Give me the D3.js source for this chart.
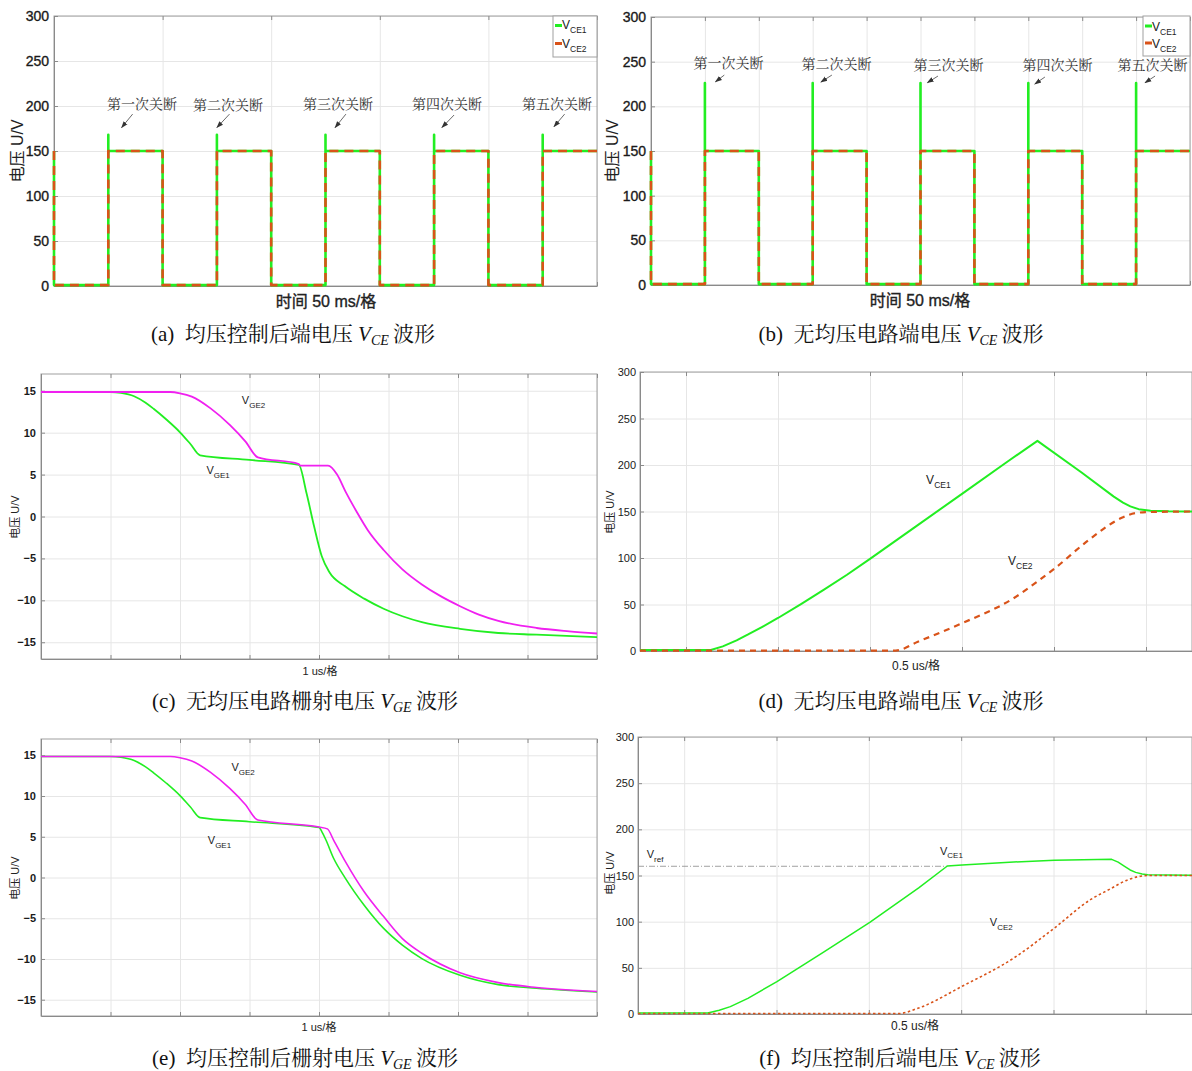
<!DOCTYPE html>
<html><head><meta charset="utf-8">
<script src="https://cdn.jsdelivr.net/npm/d3@7/dist/d3.min.js"></script>
<style>body{margin:0;background:#fff}</style>
</head><body><svg id="fig" width="1192" height="1071"></svg>
<script>
// ---------------- DATA ----------------
// (a)/(b) square-wave turn-off sequences, time in ms
const sqTime = [0,0,25,25,25,50,50,75,75,75,100,100,125,125,125,150,150,175,175,175,200,200,225,225,225,250];
const aVce1 = [150,1,1,168,150,150,1,1,168,150,150,1,1,168,150,150,1,1,168,150,150,1,1,168,150,150];
const aVce2 = [150,1,1,150,150,150,1,1,150,150,150,1,1,150,150,150,1,1,150,150,150,1,1,150,150,150];
const bVce1 = [150,1,1,226,150,150,1,1,226,150,150,1,1,226,150,150,1,1,226,150,150,1,1,226,150,150];
const bVce2 = [150,1,1,150,150,150,1,1,150,150,150,1,1,150,150,150,1,1,150,150,150,1,1,150,150,150];
const noteText = ["第一次关断","第二次关断","第三次关断","第四次关断","第五次关断"];
const aNoteT = [40.5, 80.1, 130.8, 180.9, 231.6];
const aNoteV = [203, 202, 203, 203, 203];
const aArrowFromT = [36.2, 80.8, 134.4, 184.2, 235.1];
const aArrowToT = [31.1, 75.0, 129.4, 178.6, 230.2];
const aArrowFromV = [191, 191, 191, 190, 191];
const aArrowToV = [176, 176, 176, 176, 177];
const bNoteT = [35.9, 86.0, 138.0, 188.5, 232.6];
const bNoteV = [248.4, 247.3, 246.2, 246.2, 246.2];
const bArrowFromT = [34.0, 83.9, 133.1, 182.7, 233.8];
const bArrowToT = [29.9, 78.8, 128.2, 178.0, 229.1];
const bArrowFromV = [235, 235, 233.9, 232.8, 233.9];
const bArrowToV = [227.5, 227.2, 226.4, 225, 226.4];

// (c) gate voltages without balancing, time in divisions (1 us/div)
const cT1 = [0, 1.0, 1.15, 1.34, 1.5, 1.62, 1.8, 2.0, 2.15, 2.29, 3.0, 3.71, 3.82, 3.93, 4.04, 4.15, 4.37, 4.65, 4.93, 5.2, 5.48, 6.03, 6.58, 7.13, 8.0];
const cVge1 = [14.85, 14.85, 14.75, 14.35, 13.6, 12.85, 11.6, 10.05, 8.65, 7.3, 6.75, 6.15, 2.8, -1.2, -4.75, -6.65, -8.3, -9.8, -11.0, -11.9, -12.6, -13.4, -13.9, -14.1, -14.4];
const cT2 = [0, 1.86, 2.0, 2.17, 2.44, 2.72, 2.94, 3.12, 3.71, 3.73, 4.13, 4.26, 4.38, 4.54, 4.7, 4.93, 5.2, 5.48, 5.75, 6.03, 6.3, 6.58, 7.13, 7.6, 8.0];
const cVge2 = [14.85, 14.85, 14.7, 14.3, 12.9, 10.9, 8.96, 7.05, 6.26, 6.06, 6.06, 5.0, 3.0, 0.6, -1.6, -4.0, -6.3, -8.1, -9.5, -10.7, -11.7, -12.45, -13.3, -13.7, -13.96];

// (e) gate voltages with balancing
const eT1 = [0, 1.0, 1.15, 1.34, 1.5, 1.62, 1.8, 2.0, 2.15, 2.29, 3.0, 4.0, 4.04, 4.1, 4.21, 4.38, 4.65, 4.93, 5.2, 5.48, 6.03, 6.58, 7.13, 8.0];
const eVge1 = [14.85, 14.85, 14.75, 14.35, 13.6, 12.85, 11.6, 10.05, 8.65, 7.35, 6.85, 6.14, 5.64, 4.6, 2.36, -0.1, -3.4, -6.25, -8.3, -9.95, -12.0, -13.15, -13.6, -14.05];
const eT2 = [0, 1.86, 2.0, 2.17, 2.44, 2.72, 2.94, 3.12, 4.0, 4.12, 4.21, 4.38, 4.65, 4.93, 5.2, 5.48, 6.03, 6.58, 7.13, 8.0];
const eVge2 = [14.85, 14.85, 14.7, 14.3, 12.9, 10.9, 8.96, 7.05, 6.2, 5.97, 4.6, 1.95, -1.75, -4.8, -7.5, -9.3, -11.7, -12.9, -13.5, -14.0];

// (d) collector voltages without balancing, time in divisions (0.5 us/div)
const dT1 = [0, 0.77, 0.9, 1.05, 1.17, 1.33, 1.5, 1.75, 2.0, 2.25, 2.5, 3.0, 3.5, 4.0, 4.32, 4.8, 5.15, 5.25, 5.33, 5.42, 5.55, 5.75, 6.0];
const dVce1 = [1, 1, 5, 11.5, 17.5, 26, 35.5, 50.5, 66, 82, 99, 134, 169, 204, 226, 192, 166, 159.5, 155.5, 152.5, 150.8, 150.2, 150];
const dT2 = [0, 2.78, 3.02, 3.5, 4.06, 4.32, 4.51, 4.88, 5.23, 5.38, 5.5, 6.0];
const dVce2 = [0.5, 0.5, 10, 29.8, 56.7, 74.7, 89, 119.5, 142.9, 148.2, 149.3, 150];

// (f) collector voltages with balancing
const fT1 = [0, 0.755, 0.88, 1.0, 1.19, 1.505, 2.01, 2.51, 3.04, 3.35, 3.51, 4.07, 4.51, 5.13, 5.2, 5.27, 5.33, 5.39, 5.46, 5.52, 6.0];
const fVce1 = [1, 1, 4, 8, 17, 35, 67, 99.3, 136.5, 160.3, 161.4, 164.6, 166.4, 167.5, 164.5, 160, 156, 153.4, 151.7, 150.9, 150.2];
const fT2 = [0, 2.82, 3.04, 3.51, 4.07, 4.51, 4.9, 5.1, 5.31, 5.52, 6.0];
const fVce2 = [0.5, 0.5, 6.5, 30, 60.6, 93.1, 123.8, 134.7, 145.5, 150, 150];
const fRefT = [0, 3.35];
const fRefV = [160, 160];

const vceTicks = [0, 50, 100, 150, 200, 250, 300];
const vgeTicks = [-15, -10, -5, 0, 5, 10, 15];

// ---------------- STYLE ----------------
const GREEN = "#22ee22", ORANGE = "#d95319", MAGENTA = "#f020f0";
const SANS = "'Liberation Sans','Noto Sans CJK SC',Arial,sans-serif";
const CJK = "'Noto Serif CJK SC','Noto Sans CJK SC',serif";
const SERIF = "'Liberation Serif','Noto Serif CJK SC','Noto Sans CJK SC',serif";

const svg = d3.select('#fig');
svg.append('defs').append('marker').attr('id','arr').attr('viewBox','0 0 10 10')
  .attr('refX',9).attr('refY',5).attr('markerWidth',7).attr('markerHeight',7).attr('orient','auto')
  .attr('markerUnits','userSpaceOnUse')
  .append('path').attr('d','M0,1.5 L10,5 L0,8.5 z').attr('fill','#333');

function panel(o){
  const g = svg.append('g');
  const x = d3.scaleLinear().domain(o.xDomain).range([o.x0, o.x1]);
  const y = d3.scaleLinear().domain(o.yDomain).range([o.y1, o.y0]);
  const W = o.x1 - o.x0, H = o.y1 - o.y0;
  g.append('g').attr('transform', `translate(0,${o.y1})`)
    .call(d3.axisBottom(x).tickValues(o.xGrid).tickSize(-H).tickFormat(''))
    .call(s => { s.select('.domain').remove(); s.selectAll('line').attr('stroke', '#e6e6e6'); });
  g.append('g').attr('transform', `translate(${o.x0},0)`)
    .call(d3.axisLeft(y).tickValues(o.yTicks).tickSize(-W).tickFormat(''))
    .call(s => { s.select('.domain').remove(); s.selectAll('line').attr('stroke', '#e6e6e6'); });
  g.append('rect').attr('x', o.x0).attr('y', o.y0).attr('width', W).attr('height', H)
    .attr('fill', 'none').attr('stroke', '#a0a0a0').attr('stroke-width', 1);
  g.append('g').attr('transform', `translate(${o.x0},0)`)
    .call(d3.axisLeft(y).tickValues(o.yTicks).tickSizeInner(-4).tickSizeOuter(0).tickPadding(o.pad))
    .call(s => {
      s.select('.domain').attr('stroke', '#8a8a8a');
      s.selectAll('line').attr('stroke', '#8a8a8a');
      s.selectAll('text').attr('font-family', SANS).attr('font-size', o.tickSize)
        .attr('font-weight', o.tickWeight).attr('fill', '#1a1a1a')
        .attr('stroke', o.tickStroke ? '#1a1a1a' : null).attr('stroke-width', o.tickStroke || null);
    });
  g.append('g').attr('transform', `translate(0,${o.y0})`)
    .call(d3.axisTop(x).tickValues(o.xGrid).tickSizeInner(-4).tickSizeOuter(0).tickFormat(''))
    .call(s => { s.select('.domain').remove(); s.selectAll('line').attr('stroke', '#8a8a8a'); });
  g.append('g').attr('transform', `translate(0,${o.y1})`)
    .call(d3.axisBottom(x).tickValues(o.xGrid).tickSizeInner(-4).tickSizeOuter(0).tickFormat(''))
    .call(s => { s.select('.domain').attr('stroke', '#8a8a8a'); s.selectAll('line').attr('stroke', '#8a8a8a'); });
  g.append('text').attr('transform', `translate(${o.ylx},${o.yly}) rotate(-90)`)
    .attr('text-anchor', 'middle').attr('dy', '0.35em')
    .attr('font-family', SANS).attr('font-size', o.ylSize).attr('font-weight', o.labWeight)
    .attr('fill', '#222').text('电压 U/V');
  g.append('text').attr('x', o.xlx).attr('y', o.xly).attr('text-anchor', 'middle').attr('dy', '0.35em')
    .attr('font-family', SANS).attr('font-size', o.xlSize).attr('font-weight', o.labWeight)
    .attr('fill', '#222').attr('stroke', o.tickStroke ? '#222' : null).attr('stroke-width', o.tickStroke || null)
    .text(o.xlabel);
  return { g, x, y };
}

function series(p, T, V, color, width, dash, curve){
  const line = d3.line().x((d, i) => p.x(T[i])).y(d => p.y(d)).curve(curve || d3.curveLinear);
  p.g.append('path').datum(V).attr('d', line).attr('fill', 'none').attr('stroke', color)
    .attr('stroke-width', width).attr('stroke-dasharray', dash || null)
    .attr('stroke-linejoin', 'round');
}

function vlabel(p, t, v, sub, size, subSize){
  const tx = p.g.append('text').attr('x', p.x(t)).attr('y', p.y(v))
    .attr('font-family', SANS).attr('font-size', size).attr('fill', '#222');
  tx.append('tspan').text('V');
  tx.append('tspan').attr('font-size', subSize).attr('dy', size * 0.35).text(sub);
}

function notes(p, T, V, fT, fV, tT, tV){
  T.forEach((t, i) => {
    p.g.append('text').attr('x', p.x(t)).attr('y', p.y(V[i])).attr('dy', '0.38em')
      .attr('text-anchor', 'middle').attr('font-family', CJK).attr('font-size', 14)
      .attr('fill', '#333').text(noteText[i]);
    p.g.append('line').attr('x1', p.x(fT[i])).attr('y1', p.y(fV[i]))
      .attr('x2', p.x(tT[i])).attr('y2', p.y(tV[i]))
      .attr('stroke', '#444').attr('stroke-width', 0.8).attr('marker-end', 'url(#arr)');
  });
}

function legend(x0, y0, w, h, items){
  const g = svg.append('g');
  g.append('rect').attr('x', x0).attr('y', y0).attr('width', w).attr('height', h)
    .attr('fill', '#fff').attr('stroke', '#a0a0a0');
  items.forEach(it => {
    g.append('line').attr('x1', x0 + 2).attr('x2', x0 + 9).attr('y1', it.ly).attr('y2', it.ly)
      .attr('stroke', it.color).attr('stroke-width', 3);
    const t = g.append('text').attr('x', x0 + 9).attr('y', it.ty).attr('font-family', SANS)
      .attr('font-size', 12).attr('fill', '#222');
    t.append('tspan').text('V');
    t.append('tspan').attr('font-size', 8.5).attr('dy', 3.5).text(it.sub);
  });
}

function caption(cx, cy, tag, pre, sub){
  const t = svg.append('text').attr('x', cx).attr('y', cy).attr('text-anchor', 'middle')
    .attr('font-family', SERIF).attr('font-size', 21).attr('fill', '#111');
  t.append('tspan').text(tag + '\u00a0\u00a0' + pre + '\u00a0');
  t.append('tspan').attr('font-style', 'italic').text('V');
  t.append('tspan').attr('font-style', 'italic').attr('font-size', 14).attr('dy', 4).text(sub);
  t.append('tspan').attr('dy', -4).text('\u2009波形');
}

// ---------------- (a) ----------------
const common1 = { xDomain: [0, 250], yDomain: [0, 300], yTicks: vceTicks, pad: 5,
  tickSize: 14, tickWeight: 'normal', tickStroke: 0.35, labWeight: 'normal',
  ylSize: 16, xlSize: 16, xlabel: '时间 50 ms/格' };
const pa = panel(Object.assign({}, common1, { x0: 54, x1: 597, y0: 16, y1: 286,
  xGrid: [0, 50, 100, 150, 200, 250], ylx: 17, yly: 151, xlx: 326, xly: 301 }));
series(pa, sqTime, aVce1, GREEN, 2.6);
series(pa, sqTime, aVce2, ORANGE, 2.6, '9,6');
notes(pa, aNoteT, aNoteV, aArrowFromT, aArrowFromV, aArrowToT, aArrowToV);
legend(553, 16, 44, 41, [{ ly: 25.5, ty: 29, color: GREEN, sub: 'CE1' }, { ly: 43.5, ty: 48, color: ORANGE, sub: 'CE2' }]);
caption(293, 341, '(a)', '均压控制后端电压', 'CE');

// ---------------- (b) ----------------
const pb = panel(Object.assign({}, common1, { x0: 651, x1: 1190, y0: 17, y1: 285,
  xGrid: d3.range(0, 251, 25), ylx: 612, yly: 151, xlx: 920, xly: 300 }));
series(pb, sqTime, bVce1, GREEN, 2.6);
series(pb, sqTime, bVce2, ORANGE, 2.6, '9,6');
notes(pb, bNoteT, bNoteV, bArrowFromT, bArrowFromV, bArrowToT, bArrowToV);
legend(1143, 16, 47, 40, [{ ly: 26, ty: 31, color: GREEN, sub: 'CE1' }, { ly: 43, ty: 48, color: ORANGE, sub: 'CE2' }]);
caption(901, 341, '(b)', '无均压电路端电压', 'CE');

// ---------------- (c) ----------------
const common2 = { xDomain: [0, 8], yDomain: [-17, 17], yTicks: vgeTicks, pad: 5,
  xGrid: d3.range(0, 9, 1), tickSize: 11, tickWeight: 'bold',
  labWeight: 'normal', ylSize: 11, xlSize: 11, xlabel: '1 us/格' };
const pc = panel(Object.assign({}, common2, { x0: 41, x1: 597, y0: 374, y1: 659,
  ylx: 15, yly: 517, xlx: 320, xly: 671 }));
series(pc, cT1, cVge1, GREEN, 1.8, null, d3.curveMonotoneX);
series(pc, cT2, cVge2, MAGENTA, 1.8, null, d3.curveMonotoneX);
vlabel(pc, 2.89, 13.45, 'GE2', 11, 8);
vlabel(pc, 2.38, 5.1, 'GE1', 11, 8);
caption(305, 708, '(c)', '无均压电路栅射电压', 'GE');

// ---------------- (d) ----------------
const common3 = { xDomain: [0, 6], yDomain: [0, 300], yTicks: vceTicks, pad: 4,
  xGrid: [0.5, 1.5, 2.5, 3.5, 4.5, 5.5], tickSize: 11, tickWeight: 'normal',
  labWeight: 'normal', ylSize: 11, xlSize: 12, xlabel: '0.5 us/格' };
const pd = panel(Object.assign({}, common3, { x0: 640, x1: 1192, y0: 372, y1: 651,
  ylx: 610, yly: 512, xlx: 916, xly: 666 }));
series(pd, dT1, dVce1, GREEN, 2, null, d3.curveLinear);
series(pd, dT2, dVce2, ORANGE, 2.2, '6,5', d3.curveMonotoneX);
vlabel(pd, 3.11, 179.6, 'CE1', 12, 8.5);
vlabel(pd, 4.0, 92.5, 'CE2', 12, 8.5);
caption(901, 708, '(d)', '无均压电路端电压', 'CE');

// ---------------- (e) ----------------
const pe = panel(Object.assign({}, common2, { x0: 41, x1: 597, y0: 739, y1: 1016,
  ylx: 15, yly: 878, xlx: 319, xly: 1027 }));
series(pe, eT1, eVge1, GREEN, 1.6, null, d3.curveMonotoneX);
series(pe, eT2, eVge2, MAGENTA, 1.6, null, d3.curveMonotoneX);
vlabel(pe, 2.74, 13.07, 'GE2', 11, 8);
vlabel(pe, 2.40, 4.13, 'GE1', 11, 8);
caption(305, 1065, '(e)', '均压控制后栅射电压', 'GE');

// ---------------- (f) ----------------
const pf = panel(Object.assign({}, common3, { x0: 638, x1: 1192, y0: 737, y1: 1014,
  ylx: 610, yly: 873, xlx: 915, xly: 1026 }));
series(pf, fRefT, fRefV, '#888', 0.8, '6,2,1,2');
series(pf, fT1, fVce1, GREEN, 1.5, null, d3.curveLinear);
series(pf, fT2, fVce2, ORANGE, 1.6, '2.5,2.5', d3.curveMonotoneX);
vlabel(pf, 0.094, 169.3, 'ref', 11, 8);
vlabel(pf, 3.27, 172.7, 'CE1', 11, 8);
vlabel(pf, 3.81, 94.9, 'CE2', 11, 8);
caption(900, 1065, '(f)', '均压控制后端电压', 'CE');
</script></body></html>
